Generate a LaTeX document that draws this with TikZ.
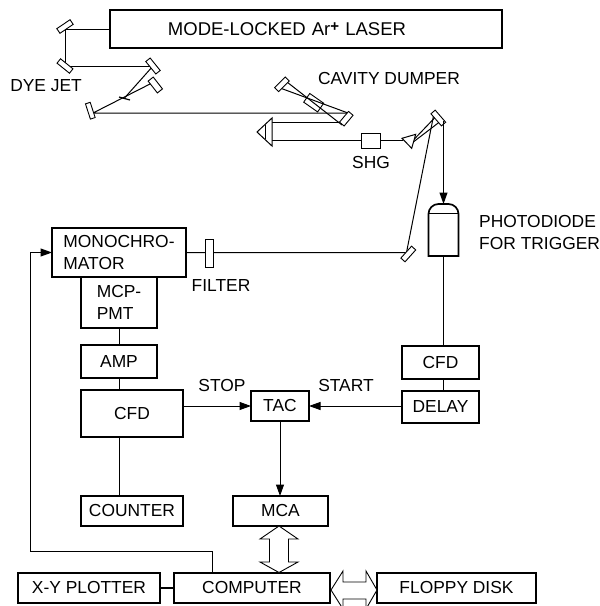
\documentclass[tikz,border=0pt]{standalone}
\usepackage{fontspec}
\setmainfont{Liberation Sans}
\usetikzlibrary{arrows.meta, positioning, backgrounds}

\begin{document}
\begin{tikzpicture}[
    x=1pt, y=-1pt,
    every node/.style={font=\fontsize{17.4}{22}\selectfont},
    box/.style={rectangle, draw, fill=white, line width=1.7pt, inner sep=0pt, outer sep=0pt, align=left},
    optic/.style={rectangle, draw, fill=white, line width=0.9pt, inner sep=0pt, outer sep=0pt},
    mirror/.style={optic, minimum width=16pt, minimum height=5.6pt},
    prism/.style={draw, fill=white, line width=1pt},
    label/.style={inner sep=0pt, align=left},
    beam/.style={line width=1pt},
    wire/.style={line width=1pt},
    arrow/.style={-{Triangle[length=11.5pt, width=8pt]}, line width=1pt},
    bus/.style={draw, fill=white, line width=0.9pt}
]
    \useasboundingbox (0,0) rectangle (600,606);
    \clip (0,0) rectangle (600,606);

    \node[box, text width=392pt, minimum height=38pt, font=\fontsize{18.5}{22}\selectfont] (laser) at (306,29) {\hspace*{58pt}MODE-LOCKED Ar\raisebox{4pt}{\fontsize{15}{15}\selectfont\bfseries +} LASER};
    \node[mirror, rotate=34] (m1) at (65,26.5) {};
    \node[mirror, rotate=-39] (m2) at (65,66) {};
    \node[mirror, rotate=-51] (m3) at (153,66) {};
    \node[mirror, rotate=-52, minimum width=15pt, minimum height=6.5pt] (m4) at (155.3,85) {};
    \node[mirror, rotate=-72, minimum height=5pt] (m5) at (90.3,110.7) {};
    \node[mirror, rotate=45, minimum width=15pt] (c1) at (282,84.3) {};
    \node[mirror, rotate=50, minimum width=14pt, minimum height=6pt] (c2) at (346.3,118.7) {};
    \node[mirror, rotate=-49] (m6) at (438.3,118) {};
    \node[mirror, rotate=48] (m7) at (408.3,254) {};
    \node[optic, rotate=-35, fill=none, minimum width=17pt, minimum height=10.6pt] (cell) at (313.7,102.7) {};
    \node[optic, minimum width=19pt, minimum height=15pt] (shg) at (370.5,140.5) {};
    \node[optic, minimum width=8pt, minimum height=28pt] (filter) at (209,253) {};

    \coordinate (jet) at (124.5,98);
    \coordinate (m4hit) at (152,83);
    \coordinate (m5hit) at (93,113);
    \coordinate (c1a) at (279.3,87.7);
    \coordinate (c1b) at (285.7,81);
    \coordinate (c2a) at (348,113);
    \coordinate (c2b) at (342,125);
    \coordinate (c2c) at (342,122.5);
    \coordinate (pr1a) at (272,122.5);
    \coordinate (pr1b) at (272,140);
    \coordinate (pr2) at (403,140);
    \coordinate (pr2a) at (412,141.5);
    \coordinate (pr2b) at (412,143);
    \coordinate (m6a) at (434.5,118);
    \coordinate (m6b) at (439.5,122);
    \coordinate (m6c) at (433.5,116);
    \coordinate (m6d) at (443.5,121);
    \coordinate (m7hit) at (406.5,252.5);
    \coordinate (fbout) at (212,573);
    \coordinate (fbcorner) at (30,551);

    \draw[prism] (257,132) -- (272,118) -- (272,146) -- cycle;
    \draw[line width=1pt] (265.5,125) -- (265.5,139);
    \draw[prism] (402,138.3) -- (415.7,134.3) -- (411.7,148.3) -- cycle;
    \draw[very thick] (119,97) -- (130,100);

    \node[rectangle, minimum width=30pt, minimum height=52pt, inner sep=0pt, outer sep=0pt] (diode) at (443.5,230) {};
    \draw[line width=1.7pt, fill=white] (diode.south west) [rounded corners=10pt] -- (diode.north west) -- (diode.north east) [sharp corners] -- (diode.south east) -- cycle;
    \draw[line width=1pt] (diode.west |- 0,213) -- (diode.east |- 0,213);

    \node[box, minimum width=134pt, minimum height=49pt] (mono) at (119,252.5) {MONOCHRO-\\MATOR};
    \node[box, minimum width=76pt, minimum height=51pt, below=0pt of mono] (mcp) {MCP-\\PMT};
    \node[box, minimum width=76pt, minimum height=33pt, below=17pt of mcp] (amp) {AMP};
    \node[box, minimum width=102pt, minimum height=47pt] (cfdl) at (132,413.5) {CFD};
    \node[box, minimum width=102pt, minimum height=30pt] (counter) at (132,511) {COUNTER};
    \node[box, minimum width=58pt, minimum height=30pt] (tac) at (280,406) {TAC};
    \node[box, minimum width=95pt, minimum height=30pt] (mca) at (280.5,511) {MCA};
    \node[box, minimum width=77pt, minimum height=33pt] (cfdr) at (440.5,362.5) {CFD};
    \node[box, minimum width=77pt, minimum height=32pt, below=12pt of cfdr] (delay) {DELAY};
    \node[box, minimum width=156pt, minimum height=30pt] (computer) at (252,588) {\raisebox{-2pt}{COMPUTER}};
    \node[box, minimum width=142pt, minimum height=30pt, left=14pt of computer] (plotter) {X-Y PLOTTER};
    \node[box, minimum width=159pt, minimum height=30pt] (floppy) at (456.5,588) {FLOPPY DISK};

    \node[label, anchor=east] (dyejet) at (82,86) {DYE JET};
    \node[label] (dumper) at (389,79) {CAVITY DUMPER};
    \node[label] (shglabel) at (371,163) {SHG};
    \node[label, anchor=west] (trigger) at (479,233) {PHOTODIODE\\FOR TRIGGER};
    \node[label] (filterlabel) at (221,286) {FILTER};
    \node[label] (stop) at (222,386) {STOP};
    \node[label] (start) at (346,386) {START};

    \draw[bus] ([xshift=-1.5pt]mca.south) -- ++(-19,13) -- ++(9.5,0) -- ++(0,23) -- ++(-9.5,0) -- ++(19,10.5) -- ++(19,-10.5) -- ++(-9.5,0) -- ++(0,-23) -- ++(9.5,0) -- cycle;
    \draw[bus] ([xshift=1pt, yshift=-2pt]computer.east) -- ++(12,-19) -- ++(0,11) -- ++(23,0) -- ++(0,-11) -- ++(11,19) -- ++(-11,19) -- ++(0,-10) -- ++(-23,0) -- ++(0,10) -- cycle;

    \begin{scope}[on background layer]
        \draw[beam] (laser.west) -| (m2.center) -- (m3.center);
        \draw[beam] (m3.center) -- (jet);
        \draw[beam] (m4hit) -- (m5hit) -- (c2a);
        \draw[beam] (c1a) -- (c2a);
        \draw[beam] (c1b) -- (c2b);
        \draw[beam] (c2c) -- (pr1a);
        \draw[beam] (pr1b) -- (pr2);
        \draw[beam] (pr2a) -- (m6a);
        \draw[beam] (pr2b) -- (m6b);
        \draw[beam] (m6c) -- (m7hit) -- (mono.east |- m7hit);
        \draw[wire] (diode.south) -- (diode.south |- cfdr.north);
        \draw[wire] (diode.south |- cfdr.south) -- (diode.south |- delay.north);
        \draw[wire] (mcp.south) -- (amp.north);
        \draw[wire] (amp.south) -- (amp.south |- cfdl.north);
        \draw[wire] (amp.south |- cfdl.south) -- (amp.south |- counter.north);
    \end{scope}

    \draw[arrow] (m6d) -- (diode.north);
    \draw[arrow] (cfdl.east |- tac.west) -- (tac.west);
    \draw[arrow] (delay.west |- tac.east) -- (tac.east);
    \draw[arrow] (tac.south) -- (tac.south |- mca.north);
    \draw[arrow] (fbout) |- (fbcorner) |- (mono.west);
    \draw[line width=2pt] (plotter.east) -- (computer.west);
\end{tikzpicture}
\end{document}
